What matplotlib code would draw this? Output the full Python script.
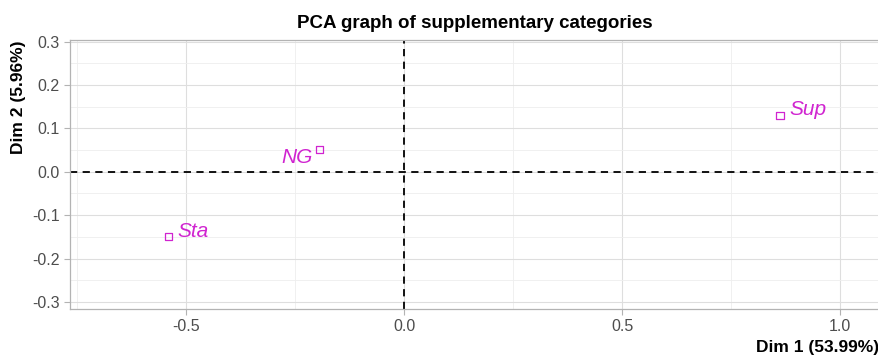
import matplotlib.pyplot as plt
from matplotlib.ticker import MultipleLocator

categories = ['Sta', 'NG', 'Sup']
dim1 = [-0.541, -0.193, 0.862]
dim2 = [-0.150, 0.051, 0.129]
# label placement (offset in pixels, ha, va) per category
offsets = [(9, 5, 'left', 'center'), (-7, -8, 'right', 'center'), (9, 6, 'left', 'center')]

pink = '#D024D0'
plt.rcParams['font.family'] = ['Liberation Sans', 'DejaVu Sans']

fig = plt.figure(figsize=(8.79, 3.56), dpi=100)
ax = fig.add_axes([70 / 879, 47 / 356, 809 / 879, 269 / 356])

ax.set_xlim(-0.766, 1.089)
ax.set_ylim(-0.316, 0.3035)
ax.xaxis.set_major_locator(MultipleLocator(0.5))
ax.xaxis.set_minor_locator(MultipleLocator(0.25))
ax.yaxis.set_major_locator(MultipleLocator(0.1))
ax.yaxis.set_minor_locator(MultipleLocator(0.05))
ax.grid(which='major', color='#DEDEDE', linewidth=0.8)
ax.grid(which='minor', color='#EEEEEE', linewidth=0.6)
ax.set_axisbelow(True)
for s in ax.spines.values():
    s.set_color('#B3B3B3')
    s.set_linewidth(0.9)
ax.tick_params(which='major', length=4, color='#B3B3B3', labelcolor='#4D4D4D', labelsize=11.5)
ax.tick_params(which='minor', length=0)
ax.xaxis.set_major_formatter(lambda v, p: '%.1f' % v)
ax.yaxis.set_major_formatter(lambda v, p: '%.1f' % v)

ax.axhline(0, color='black', linestyle=(0, (4, 3)), linewidth=1.3)
ax.axvline(0, color='black', linestyle=(0, (4, 3)), linewidth=1.3)

ax.scatter(dim1, dim2, marker='s', s=26, facecolors='none', edgecolors=pink, linewidths=0.9, zorder=3)
for name, x, y, (dx, dy, ha, va) in zip(categories, dim1, dim2, offsets):
    ax.annotate(name, (x, y), xytext=(dx * 0.72, dy * 0.72), textcoords='offset points',
                ha=ha, va=va, color=pink, fontsize=15, style='italic')

ax.set_title('PCA graph of supplementary categories', fontsize=13.5, fontweight='bold', pad=9)
ax.set_xlabel('Dim 1 (53.99%)', fontsize=12.5, fontweight='bold', loc='right', labelpad=4)
ax.set_ylabel('Dim 2 (5.96%)', fontsize=12.5, fontweight='bold', loc='top', labelpad=4)

plt.savefig('out.png', dpi=100)
